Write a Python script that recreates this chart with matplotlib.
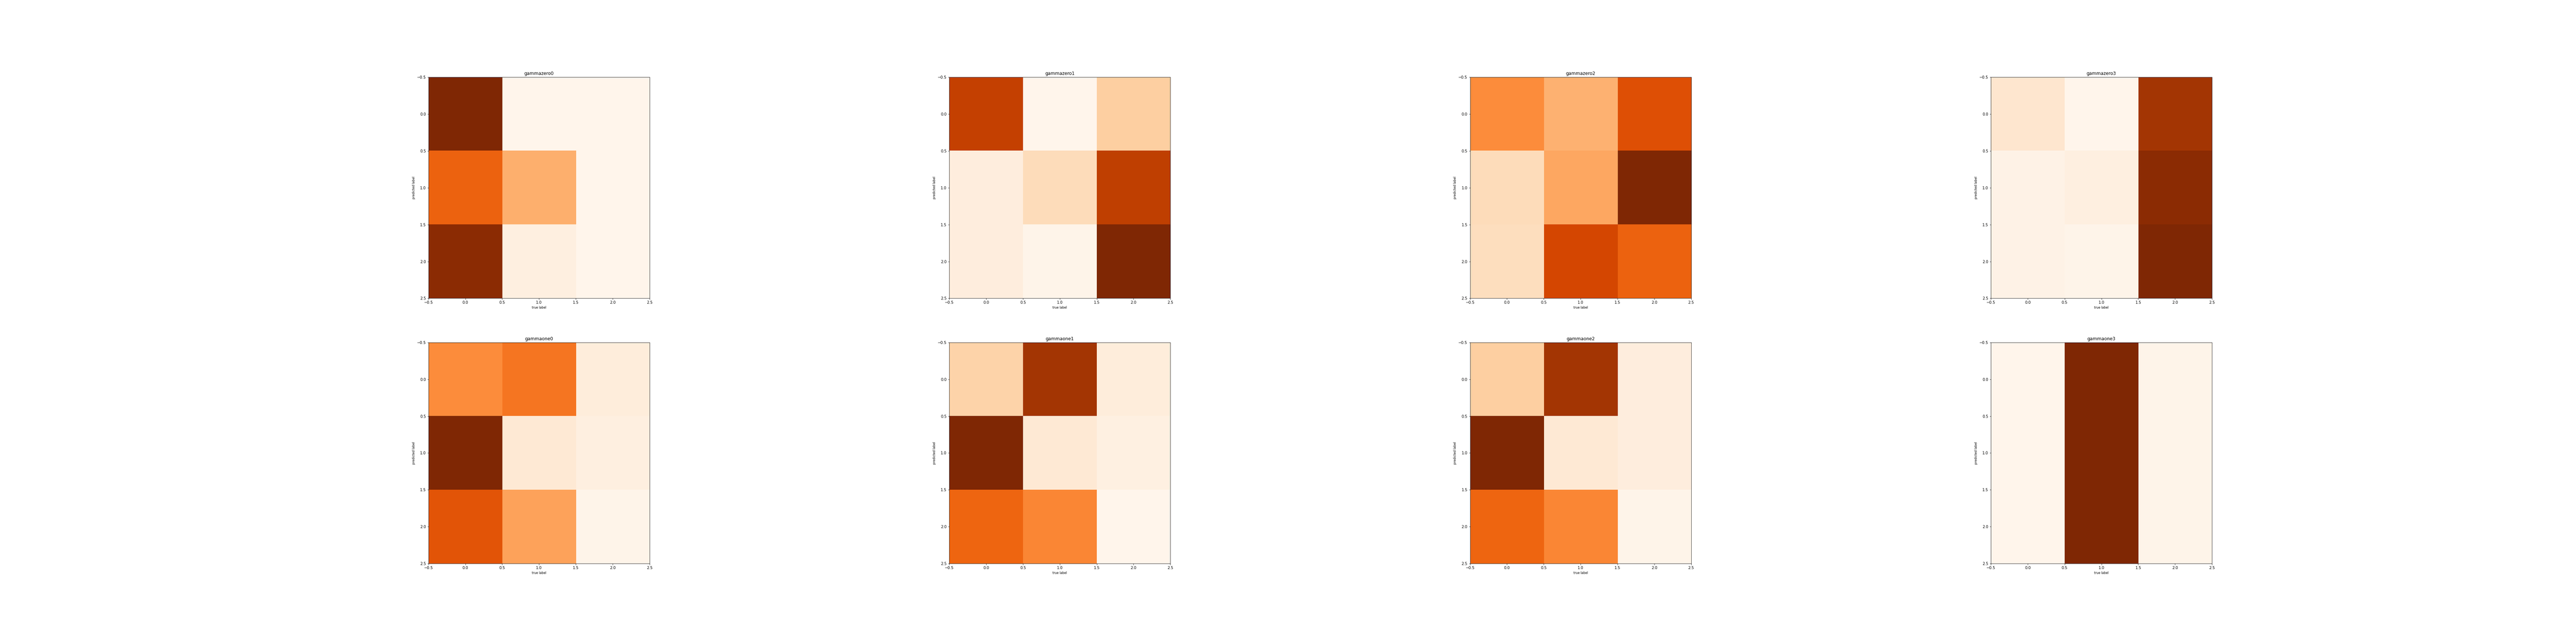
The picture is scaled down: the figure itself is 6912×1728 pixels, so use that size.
import matplotlib
matplotlib.use("Agg")
import matplotlib.pyplot as plt
import numpy as np

titles = ["gammazero0", "gammazero1", "gammazero2", "gammazero3",
          "gammaone0", "gammaone1", "gammaone2", "gammaone3"]

gammazero0 = [[1.00, 0.00, 0.00],
              [0.65, 0.37, 0.00],
              [0.96, 0.05, 0.00]]
gammazero1 = [[0.80, 0.00, 0.25],
              [0.06, 0.18, 0.81],
              [0.06, 0.01, 1.00]]
gammazero2 = [[0.50, 0.36, 0.72],
              [0.18, 0.40, 1.00],
              [0.17, 0.76, 0.65]]
gammazero3 = [[0.12, 0.00, 0.88],
              [0.02, 0.05, 0.96],
              [0.02, 0.01, 1.00]]
gammaone0 = [[0.50, 0.58, 0.07],
             [1.00, 0.10, 0.05],
             [0.70, 0.42, 0.01]]
gammaone1 = [[0.23, 0.88, 0.07],
             [1.00, 0.10, 0.04],
             [0.64, 0.52, 0.00]]
gammaone2 = [[0.25, 0.88, 0.06],
             [1.00, 0.10, 0.06],
             [0.64, 0.52, 0.01]]
gammaone3 = [[0.00, 1.00, 0.01],
             [0.00, 1.00, 0.01],
             [0.00, 1.00, 0.01]]

matrices = [gammazero0, gammazero1, gammazero2, gammazero3,
            gammaone0, gammaone1, gammaone2, gammaone3]

fig = plt.figure(figsize=(96, 24), dpi=72)
fig.subplots_adjust(left=0.125, right=0.9, bottom=0.125, top=0.88,
                    wspace=0.2, hspace=0.2)
for i, (t, m) in enumerate(zip(titles, matrices)):
    ax = fig.add_subplot(2, 4, i + 1)
    ax.imshow(np.array(m), cmap="Oranges", vmin=0, vmax=1,
              interpolation="nearest")
    ax.set_title(t, fontsize=12)
    ax.set_xlabel("true label", fontsize=8)
    ax.set_ylabel("predicted label", fontsize=8)
    ax.tick_params(labelsize=10)

fig.savefig("out.png", dpi=72)
